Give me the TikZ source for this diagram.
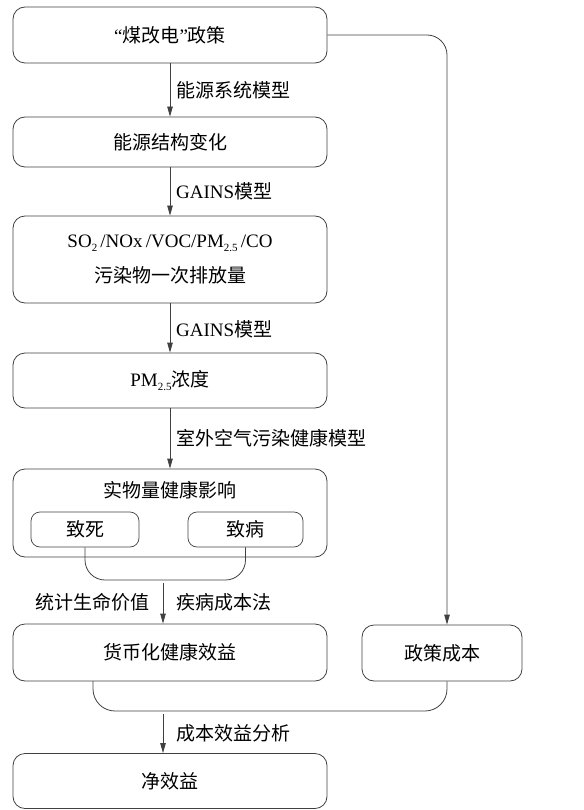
\documentclass[tikz,border=0pt]{standalone}
\usepackage{fontspec}
\setmainfont{Liberation Serif}
\newfontfamily\cjk{Noto Sans CJK SC}
\usetikzlibrary{arrows.meta}
\newcommand{\subs}[1]{\raisebox{-0.45ex}{\fontsize{11}{11}\selectfont #1}}
\definecolor{lc}{HTML}{404040}
\begin{document}
\begin{tikzpicture}[x=1pt,y=-1pt,
  txt/.style={font=\fontsize{19}{35}\selectfont, text=black, inner sep=0pt},
  box/.style={draw=lc, line width=0.8pt, rounded corners=12pt, minimum width=314pt, txt, align=center},
  sbox/.style={draw=lc, line width=0.7pt, rounded corners=9pt, txt},
  arr/.style={draw=lc, line width=0.8pt, -{Triangle[length=10pt,width=5.5pt]}},
  con/.style={draw=lc, line width=0.8pt},
  lab/.style={txt, anchor=west}]
\useasboundingbox (0,0) rectangle (583,810);

\node[box, minimum height=56pt] (b1) at (170,35) {“{\cjk 煤改电}”{\cjk 政策}};
\node[box, minimum height=50pt] (b2) at (170,142) {\cjk 能源结构变化};
\node[box, minimum height=87pt] (b3) at (170,259.5) {SO\subs{2}\,/NOx\,/VOC/PM\subs{2.5}\,/CO\\{\cjk 污染物一次排放量}};
\node[box, minimum height=55pt] (b4) at (170,380.5) {PM\subs{2.5}\cjk 浓度};
\node[box, minimum height=88pt] (b5) at (170,513) {};
\node[txt] (t5) at (170,490) {\cjk 实物量健康影响};
\node[sbox, minimum width=108pt, minimum height=35pt] (d1) at (85,529.5) {\cjk 致死};
\node[sbox, minimum width=115pt, minimum height=35pt] (d2) at (245.5,529.5) {\cjk 致病};
\node[box, minimum height=57pt] (b6) at (170,652.5) {\cjk 货币化健康效益};
\node[box, minimum width=160pt, minimum height=56pt] (pc) at (442,653) {\cjk 政策成本};
\node[box, minimum height=55pt] (b7) at (170,781) {\cjk 净效益};

\coordinate (m1) at (163,580);
\coordinate (j1) at (163,583);
\coordinate (m2) at (163,711);
\coordinate (j2) at (163,714);
\coordinate (r1) at (447,35);
\coordinate (s6) at (93,681);

\draw[arr] (b1.south) -- (b2.north);
\node[lab] at (176,90) {\cjk 能源系统模型};
\draw[arr] (b2.south) -- (b3.north);
\node[lab] at (176,191) {GAINS\cjk 模型};
\draw[arr] (b3.south) -- (b4.north);
\node[lab] at (176,329) {GAINS\cjk 模型};
\draw[arr] (b4.south) -- (b5.north);
\node[lab] at (176,438) {\cjk 室外空气污染健康模型};

\draw[con, rounded corners=20pt] (d1.south) |- (m1) -| (d2.south);
\draw[arr] (j1) -- (b6.north -| j1);
\node[txt, anchor=east] at (150,602) {\cjk 统计生命价值};
\node[lab] at (176,602) {\cjk 疾病成本法};

\draw[arr, rounded corners=20pt] (b1.east) -- (r1) -- (pc.north -| r1);

\draw[con, rounded corners=22pt] (s6) |- (m2) -| (pc.south -| r1);
\draw[arr] (j2) -- (b7.north -| j2);
\node[lab] at (176,733) {\cjk 成本效益分析};
\end{tikzpicture}
\end{document}
